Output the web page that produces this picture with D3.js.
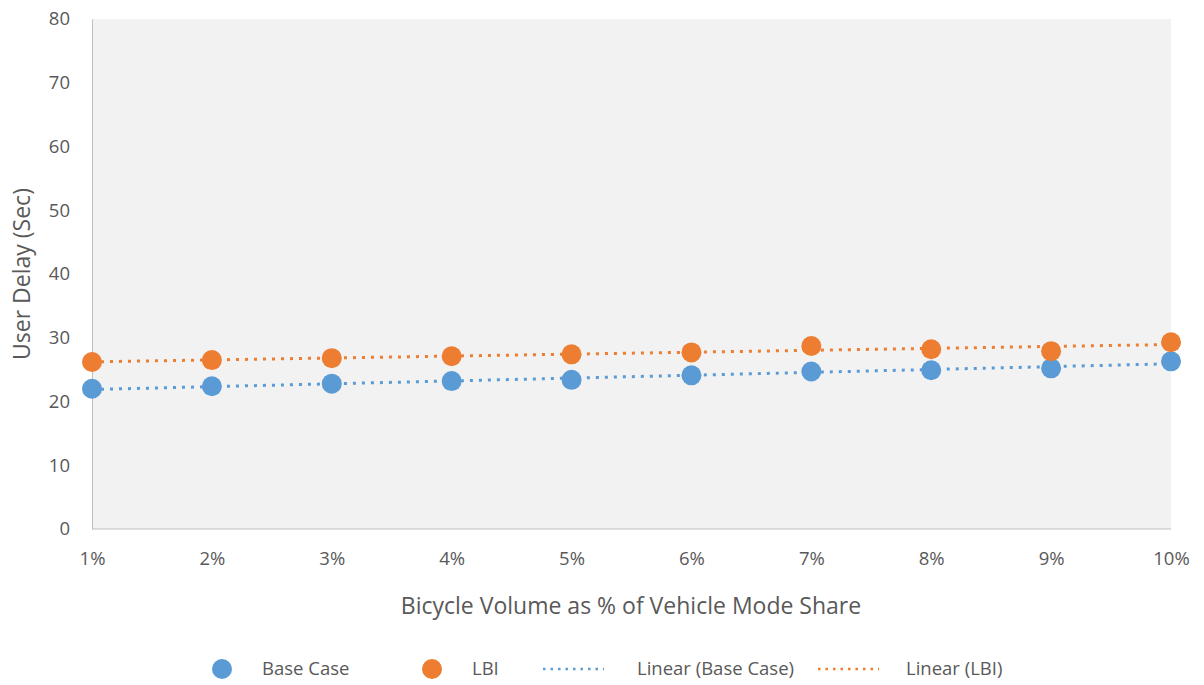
<!DOCTYPE html>
<html><head><meta charset="utf-8">
<script src="https://cdn.jsdelivr.net/npm/d3@7"></script>
<style>body{margin:0;background:#fff;} text{font-family:"Open Sans",Lato,sans-serif;}</style>
</head><body>
<svg id="c" width="1204" height="685"></svg>
<script>
const categories = ["1%","2%","3%","4%","5%","6%","7%","8%","9%","10%"];
const baseCase = [22.0, 22.4, 22.8, 23.2, 23.4, 24.1, 24.7, 24.9, 25.2, 26.3];
const lbi      = [26.2, 26.5, 26.8, 27.1, 27.4, 27.7, 28.7, 28.2, 27.9, 29.3];
const yTicks = [0,10,20,30,40,50,60,70,80];
const legendLabels = ["Base Case","LBI","Linear (Base Case)","Linear (LBI)"];

const blue = "#5b9bd5", orange = "#ed7d31", grey = "#595959";
const svg = d3.select("#c");
const L = 92, R = 1171, T = 19, B = 529;

const x = d3.scalePoint().domain(categories).range([L, R]);
const y = d3.scaleLinear().domain([0, 80]).range([B, T]);

svg.append("rect").attr("x", L).attr("y", T).attr("width", R - L).attr("height", B - T).attr("fill", "#f2f2f2");

const yAxis = svg.append("g").attr("transform", `translate(${L},0)`)
  .call(d3.axisLeft(y).tickValues(yTicks).tickSize(0).tickPadding(22));
yAxis.select(".domain").attr("stroke", "#bfbfbf");
yAxis.selectAll("text").attr("fill", grey).attr("font-size", 18.5);

const xAxis = svg.append("g").attr("transform", `translate(0,${B})`)
  .call(d3.axisBottom(x).tickSize(0).tickPadding(23));
xAxis.select(".domain").attr("stroke", "#bfbfbf").attr("d", `M${L},0H${R}`);
xAxis.selectAll("text").attr("fill", grey).attr("font-size", 18.5);

svg.append("text").attr("transform", "translate(30,274) rotate(-90)").attr("text-anchor", "middle")
  .attr("fill", grey).attr("font-size", 23).text("User Delay (Sec)");
svg.append("text").attr("x", 631).attr("y", 614).attr("text-anchor", "middle")
  .attr("fill", grey).attr("font-size", 23).text("Bicycle Volume as % of Vehicle Mode Share");

function fit(vals) {
  const xs = vals.map((_, i) => i + 1);
  const mx = d3.mean(xs), my = d3.mean(vals);
  const b = d3.sum(xs.map((xi, i) => (xi - mx) * (vals[i] - my))) / d3.sum(xs.map(xi => (xi - mx) ** 2));
  const a = my - b * mx;
  return xs.map(xi => a + b * xi);
}
const line = d3.line().x((d, i) => x(categories[i])).y(d => y(d));
[[baseCase, blue], [lbi, orange]].forEach(([vals, col]) => {
  svg.append("path").datum(fit(vals)).attr("d", line).attr("fill", "none")
    .attr("stroke", col).attr("stroke-width", 3).attr("stroke-dasharray", "3,6");
});
[[baseCase, blue], [lbi, orange]].forEach(([vals, col]) => {
  svg.append("g").selectAll("circle").data(vals).join("circle")
    .attr("cx", (d, i) => x(categories[i])).attr("cy", d => y(d)).attr("r", 10).attr("fill", col);
});

// legend
const ly = 669;
const lg = svg.append("g");
lg.append("circle").attr("cx", 222).attr("cy", ly).attr("r", 10).attr("fill", blue);
lg.append("text").attr("x", 262).attr("y", ly + 6).attr("fill", grey).attr("font-size", 18.5).text(legendLabels[0]);
lg.append("circle").attr("cx", 432).attr("cy", ly).attr("r", 10).attr("fill", orange);
lg.append("text").attr("x", 472).attr("y", ly + 6).attr("fill", grey).attr("font-size", 18.5).text(legendLabels[1]);
lg.append("line").attr("x1", 543).attr("x2", 604).attr("y1", ly).attr("y2", ly).attr("stroke", blue)
  .attr("stroke-width", 2.5).attr("stroke-dasharray", "2.5,5");
lg.append("text").attr("x", 637).attr("y", ly + 6).attr("fill", grey).attr("font-size", 18.5).text(legendLabels[2]);
lg.append("line").attr("x1", 818).attr("x2", 879).attr("y1", ly).attr("y2", ly).attr("stroke", orange)
  .attr("stroke-width", 2.5).attr("stroke-dasharray", "2.5,5");
lg.append("text").attr("x", 906).attr("y", ly + 6).attr("fill", grey).attr("font-size", 18.5).text(legendLabels[3]);
</script>
</body></html>
